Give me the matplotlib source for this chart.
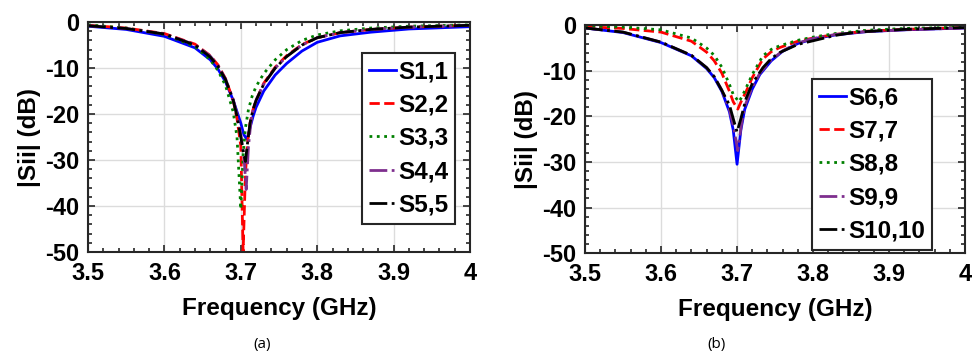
import matplotlib
matplotlib.use("Agg")
import matplotlib.pyplot as plt
from matplotlib.ticker import MultipleLocator

plt.rcParams['font.family'] = ['Liberation Sans', 'DejaVu Sans']
plt.rcParams['font.weight'] = 'bold'
plt.rcParams['axes.unicode_minus'] = False

# ---- panel (a) data: frequency (GHz) and |Sii| (dB) ----
f11 = [3.50, 3.55, 3.60, 3.64, 3.66, 3.67, 3.68, 3.69, 3.695, 3.70, 3.704, 3.708, 3.712, 3.716,
       3.72, 3.73, 3.745, 3.76, 3.78, 3.80, 3.83, 3.87, 3.92, 4.00]
s11 = [-0.9, -1.6, -3.1, -5.6, -8.2, -10.2, -13.0, -17.0, -19.5, -22.0, -24.5, -25.5, -23.0, -20.5,
       -18.5, -15.0, -11.5, -9.0, -6.3, -4.4, -3.0, -2.2, -1.5, -1.0]

f22 = [3.50, 3.55, 3.60, 3.64, 3.66, 3.67, 3.68, 3.69, 3.695, 3.70, 3.703, 3.706, 3.709, 3.712,
       3.716, 3.72, 3.73, 3.745, 3.76, 3.78, 3.80, 3.83, 3.87, 3.92, 4.00]
s22 = [-0.7, -1.3, -2.5, -4.8, -7.3, -9.3, -12.3, -17.0, -21.0, -27.0, -50.0, -33.0, -26.0, -22.0,
       -19.0, -17.0, -13.3, -9.8, -7.3, -4.9, -3.4, -2.3, -1.6, -1.1, -0.7]

f33 = [3.50, 3.55, 3.60, 3.64, 3.66, 3.67, 3.68, 3.69, 3.695, 3.70, 3.703, 3.706, 3.71, 3.715,
       3.72, 3.73, 3.745, 3.76, 3.78, 3.80, 3.83, 3.87, 3.92, 4.00]
s33 = [-0.6, -1.3, -2.7, -5.3, -8.2, -10.5, -13.8, -19.5, -25.0, -40.7, -29.0, -23.0, -19.0, -16.0,
       -14.0, -11.2, -8.2, -6.0, -4.0, -2.8, -1.9, -1.3, -0.9, -0.6]

f44 = [3.50, 3.55, 3.60, 3.64, 3.66, 3.67, 3.68, 3.69, 3.695, 3.70, 3.704, 3.707, 3.71, 3.713,
       3.716, 3.72, 3.73, 3.745, 3.76, 3.78, 3.80, 3.83, 3.87, 3.92, 4.00]
s44 = [-0.8, -1.4, -2.6, -4.9, -7.4, -9.4, -12.4, -16.8, -20.0, -24.5, -29.0, -36.4, -27.0, -22.0,
       -19.2, -17.0, -13.5, -10.0, -7.5, -5.0, -3.4, -2.3, -1.6, -1.1, -0.7]

f55 = [3.50, 3.55, 3.60, 3.64, 3.66, 3.67, 3.68, 3.69, 3.695, 3.70, 3.703, 3.706, 3.709, 3.712,
       3.716, 3.72, 3.73, 3.745, 3.76, 3.78, 3.80, 3.83, 3.87, 3.92, 4.00]
s55 = [-0.8, -1.4, -2.6, -5.0, -7.6, -9.6, -12.5, -17.0, -20.5, -25.0, -28.0, -30.3, -26.0, -22.0,
       -19.0, -17.0, -13.5, -10.0, -7.5, -5.0, -3.4, -2.3, -1.6, -1.1, -0.7]

# ---- panel (b) data ----
f66 = [3.50, 3.55, 3.60, 3.64, 3.66, 3.67, 3.68, 3.69, 3.695, 3.70, 3.705, 3.71, 3.72, 3.73,
       3.745, 3.76, 3.78, 3.80, 3.83, 3.87, 3.92, 4.00]
s66 = [-0.6, -1.6, -3.8, -6.7, -9.5, -11.5, -14.5, -19.0, -23.0, -30.5, -23.0, -18.5, -14.0, -10.8,
       -7.8, -5.7, -4.0, -3.0, -2.1, -1.4, -1.0, -0.6]

f77 = [3.50, 3.55, 3.60, 3.64, 3.66, 3.67, 3.68, 3.69, 3.695, 3.701, 3.706, 3.712, 3.72, 3.734,
       3.745, 3.756, 3.78, 3.80, 3.83, 3.87, 3.92, 4.00]
s77 = [-0.3, -0.7, -1.5, -3.5, -5.9, -7.8, -10.5, -14.5, -16.8, -18.4, -16.5, -14.5, -11.5, -7.4,
       -5.8, -4.9, -3.5, -2.8, -2.0, -1.3, -0.9, -0.5]

f88 = [3.50, 3.55, 3.60, 3.64, 3.66, 3.67, 3.68, 3.69, 3.695, 3.7025, 3.707, 3.712, 3.72, 3.734,
       3.745, 3.756, 3.78, 3.80, 3.83, 3.87, 3.92, 4.00]
s88 = [-0.1, -0.4, -1.0, -2.8, -5.0, -6.6, -9.2, -13.0, -15.2, -16.8, -15.5, -13.7, -10.8, -6.7,
       -5.3, -4.5, -3.3, -2.6, -1.8, -1.1, -0.7, -0.4]

f99 = [3.50, 3.55, 3.60, 3.64, 3.66, 3.67, 3.68, 3.69, 3.695, 3.701, 3.706, 3.71, 3.72, 3.73,
       3.745, 3.76, 3.78, 3.80, 3.83, 3.87, 3.92, 4.00]
s99 = [-0.6, -1.5, -3.7, -6.6, -9.3, -11.3, -14.2, -18.5, -22.0, -27.5, -21.5, -17.8, -13.6, -10.5,
       -7.6, -5.6, -3.9, -2.9, -2.0, -1.4, -1.0, -0.6]

f1010 = [3.50, 3.55, 3.60, 3.64, 3.66, 3.67, 3.68, 3.69, 3.695, 3.70, 3.705, 3.712, 3.72, 3.734,
         3.745, 3.756, 3.78, 3.80, 3.83, 3.857, 3.92, 4.00]
s1010 = [-0.6, -1.5, -3.7, -6.6, -9.3, -11.3, -14.3, -17.5, -20.5, -23.4, -20.5, -16.0, -12.8, -9.3,
         -7.3, -6.0, -4.2, -3.4, -2.2, -1.5, -0.9, -0.5]

xticks = [3.5, 3.6, 3.7, 3.8, 3.9, 4.0]
xticklabels = ['3.5', '3.6', '3.7', '3.8', '3.9', '4']
yticks = [0, -10, -20, -30, -40, -50]

colors = ['#0000FF', '#FF0000', '#008000', '#7E2F8E', '#000000']
styles = ['-', '--', ':', '-.', '-.']

panel_a = [(f11, s11, 'S1,1'), (f22, s22, 'S2,2'), (f33, s33, 'S3,3'),
           (f44, s44, 'S4,4'), (f55, s55, 'S5,5')]
panel_b = [(f66, s66, 'S6,6'), (f77, s77, 'S7,7'), (f88, s88, 'S8,8'),
           (f99, s99, 'S9,9'), (f1010, s1010, 'S10,10')]

fig = plt.figure(figsize=(9.77, 3.56), dpi=100)
ax1 = fig.add_axes([0.0901, 0.292, 0.391, 0.646])
ax2 = fig.add_axes([0.5988, 0.289, 0.389, 0.640])


def style_axes(ax, series, legend_anchor):
    for (f, s, lab), c, ls in zip(series, colors, styles):
        ax.plot(f, s, color=c, linestyle=ls, linewidth=2, label=lab)
    ax.set_xlim(3.5, 4.0)
    ax.set_ylim(-50, 0)
    ax.set_xticks(xticks)
    ax.set_xticklabels(xticklabels)
    ax.set_yticks(yticks)
    ax.xaxis.set_minor_locator(MultipleLocator(0.02))
    ax.yaxis.set_minor_locator(MultipleLocator(2))
    ax.tick_params(which='both', direction='in', top=True, right=True,
                   labelsize=17, width=1.2, color='#262626')
    ax.tick_params(axis='x', pad=7)
    ax.tick_params(axis='y', pad=6)
    ax.tick_params(which='major', length=5)
    ax.tick_params(which='minor', length=3)
    ax.grid(True, which='major', color='#dcdcdc', linewidth=1)
    ax.set_axisbelow(True)
    for sp in ax.spines.values():
        sp.set_linewidth(1.5)
        sp.set_color('#262626')
    ax.set_xlabel('Frequency (GHz)', fontsize=17.5, fontweight='bold', labelpad=9)
    ax.set_ylabel('|Sii| (dB)', fontsize=17.5, fontweight='bold', labelpad=3)
    leg = ax.legend(loc='upper left', bbox_to_anchor=legend_anchor,
                    handlelength=1.1, handletextpad=0.08, labelspacing=0.42,
                    borderpad=0.3, borderaxespad=0, fancybox=False,
                    framealpha=1, edgecolor='#262626',
                    prop={'weight': 'bold', 'size': 17.5})
    leg.get_frame().set_linewidth(1.5)


style_axes(ax1, panel_a, (0.717, 0.865))
style_axes(ax2, panel_b, (0.597, 0.763))

fig.text(0.268, 0.022, '(a)', fontsize=11, family='Open Sans', fontweight='normal', ha='center')
fig.text(0.733, 0.022, '(b)', fontsize=11, family='Open Sans', fontweight='normal', ha='center')

fig.savefig('out.png', dpi=100)
